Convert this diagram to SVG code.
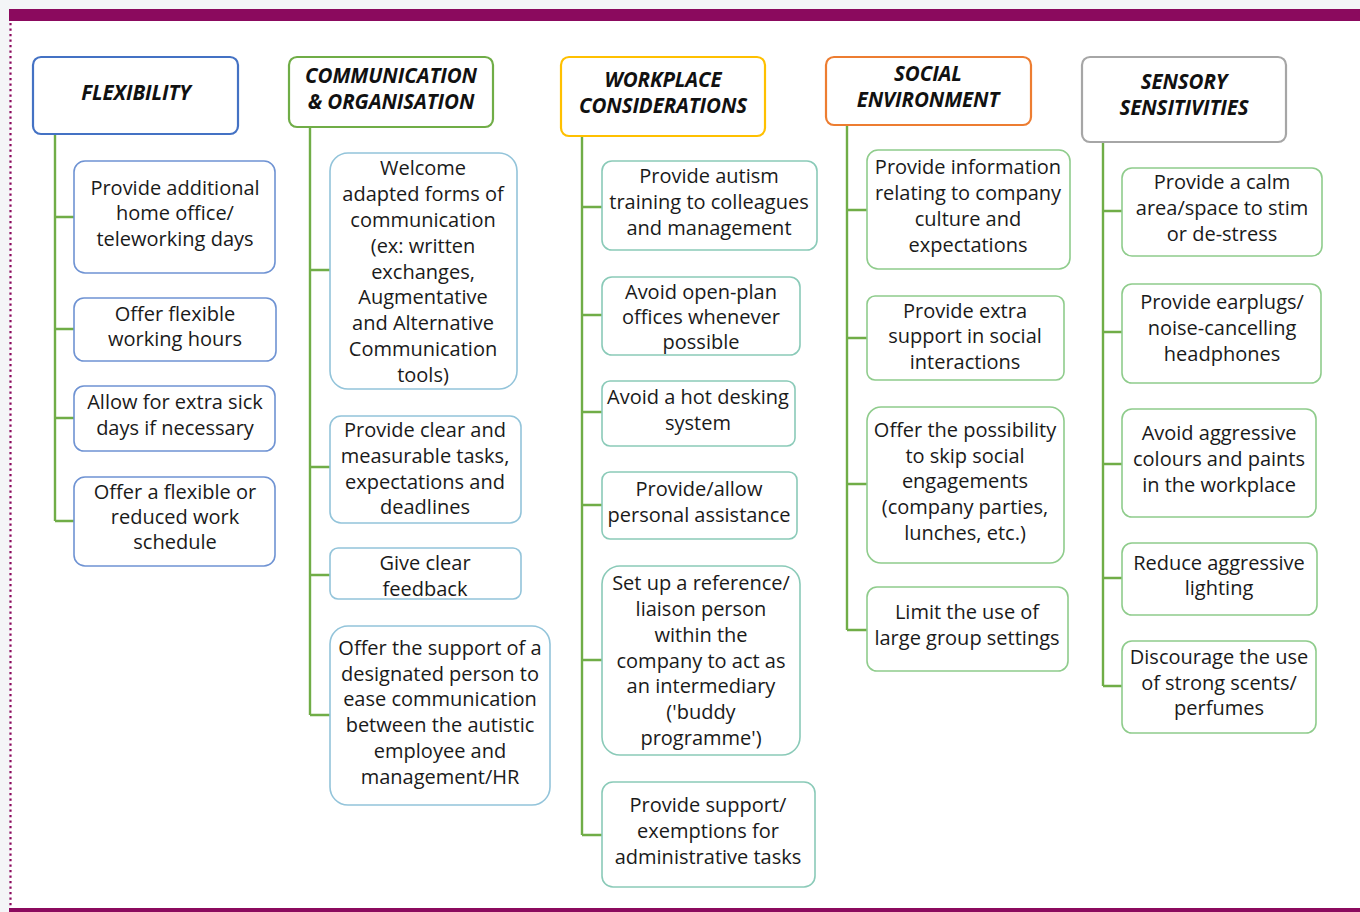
<svg xmlns="http://www.w3.org/2000/svg" width="1360" height="912" viewBox="0 0 1360 912">
<style>
.bg{fill:#ffffff}
.hdr{fill:#ffffff;stroke-width:2.2}
.box{fill:#ffffff;stroke-width:1.6}
.ht{font-family:"Open Sans","Liberation Sans",sans-serif;font-weight:bold;font-style:italic;font-size:20.5px;fill:#111;text-anchor:middle;dominant-baseline:central;letter-spacing:-0.1px}
.t{font-family:"Open Sans","Liberation Sans",sans-serif;font-size:20px;fill:#1a1a1a;text-anchor:middle;dominant-baseline:central}
.con{fill:none;stroke:#70AD47;stroke-width:2.4}
.c1{stroke:#6F93D3}.c2{stroke:#93C4DA}.c3{stroke:#8ACAB8}.c4{stroke:#8FCC8C}.c5{stroke:#8FCC8C}
</style>
<rect x="0" y="0" width="1360" height="912" fill="#F4F5F7"/>
<rect x="10" y="20" width="1350" height="888" class="bg"/>
<rect x="9" y="9" width="1351" height="12" fill="#8B0A5E"/>
<rect x="9" y="908" width="1351" height="4" fill="#8B0A5E"/>
<line x1="10.5" y1="23" x2="10.5" y2="908" stroke="#8B0A5E" stroke-width="2.2" stroke-dasharray="2.2 3.3"/>

<g id="connectors">
<path class="con" d="M55 134V521M55 217H74M55 329H74M55 418H74M55 521H74"/>
<path class="con" d="M310 127V715M310 270H330M310 467H330M310 575H330M310 715H330"/>
<path class="con" d="M582 136V835M582 207H602M582 315H602M582 412H602M582 505H602M582 660H602M582 835H602"/>
<path class="con" d="M847 125V630M847 210H867M847 338H867M847 484H867M847 630H867"/>
<path class="con" d="M1103 142V686M1103 211H1122M1103 332H1122M1103 464H1122M1103 578H1122M1103 686H1122"/>
</g>

<g id="h1"><rect class="hdr" x="33" y="57" width="205" height="77" rx="8" stroke="#4472C4"/><text class="ht" x="136" y="92">FLEXIBILITY</text></g>
<g id="h2"><rect class="hdr" x="289" y="57" width="204" height="70" rx="8" stroke="#70AD47"/><text class="ht" x="391" y="75">COMMUNICATION</text><text class="ht" x="391" y="101">&amp; ORGANISATION</text></g>
<g id="h3"><rect class="hdr" x="561" y="57" width="204" height="79" rx="8" stroke="#FFC000"/><text class="ht" x="663" y="79">WORKPLACE</text><text class="ht" x="663" y="105">CONSIDERATIONS</text></g>
<g id="h4"><rect class="hdr" x="826" y="57" width="205" height="68" rx="8" stroke="#ED7D31"/><text class="ht" x="928" y="73">SOCIAL</text><text class="ht" x="928" y="99">ENVIRONMENT</text></g>
<g id="h5"><rect class="hdr" x="1082" y="57" width="204" height="85" rx="8" stroke="#A6A6A6"/><text class="ht" x="1184" y="81">SENSORY</text><text class="ht" x="1184" y="107">SENSITIVITIES</text></g>

<g id="f1"><rect class="box c1" x="74" y="161" width="201" height="112" rx="11"/><text class="t"><tspan x="175" y="187">Provide additional</tspan><tspan x="175" y="212">home office/</tspan><tspan x="175" y="238">teleworking days</tspan></text></g>
<g id="f2"><rect class="box c1" x="74" y="298" width="202" height="63" rx="10"/><text class="t"><tspan x="175" y="313">Offer flexible</tspan><tspan x="175" y="338">working hours</tspan></text></g>
<g id="f3"><rect class="box c1" x="74" y="386" width="201" height="65" rx="10"/><text class="t"><tspan x="175" y="401">Allow for extra sick</tspan><tspan x="175" y="427">days if necessary</tspan></text></g>
<g id="f4"><rect class="box c1" x="74" y="477" width="201" height="89" rx="11"/><text class="t"><tspan x="175" y="491">Offer a flexible or</tspan><tspan x="175" y="516">reduced work</tspan><tspan x="175" y="541">schedule</tspan></text></g>

<g id="co1"><rect class="box c2" x="330" y="153" width="187" height="236" rx="18"/><text class="t"><tspan x="423" y="167">Welcome</tspan><tspan x="423" y="193">adapted forms of</tspan><tspan x="423" y="219">communication</tspan><tspan x="423" y="245">(ex: written</tspan><tspan x="423" y="271">exchanges,</tspan><tspan x="423" y="296">Augmentative</tspan><tspan x="423" y="322">and Alternative</tspan><tspan x="423" y="348">Communication</tspan><tspan x="423" y="374">tools)</tspan></text></g>
<g id="co2"><rect class="box c2" x="330" y="416" width="191" height="107" rx="11"/><text class="t"><tspan x="425" y="429">Provide clear and</tspan><tspan x="425" y="455">measurable tasks,</tspan><tspan x="425" y="481">expectations and</tspan><tspan x="425" y="506">deadlines</tspan></text></g>
<g id="co3"><rect class="box c2" x="330" y="548" width="191" height="51" rx="8"/><text class="t"><tspan x="425" y="562">Give clear</tspan><tspan x="425" y="588">feedback</tspan></text></g>
<g id="co4"><rect class="box c2" x="330" y="626" width="220" height="179" rx="18"/><text class="t"><tspan x="440" y="647">Offer the support of a</tspan><tspan x="440" y="673">designated person to</tspan><tspan x="440" y="698">ease communication</tspan><tspan x="440" y="724">between the autistic</tspan><tspan x="440" y="750">employee and</tspan><tspan x="440" y="776">management/HR</tspan></text></g>

<g id="w1"><rect class="box c3" x="602" y="161" width="215" height="89" rx="10"/><text class="t"><tspan x="709" y="175">Provide autism</tspan><tspan x="709" y="201">training to colleagues</tspan><tspan x="709" y="227">and management</tspan></text></g>
<g id="w2"><rect class="box c3" x="602" y="277" width="198" height="78" rx="10"/><text class="t"><tspan x="701" y="291">Avoid open-plan</tspan><tspan x="701" y="316">offices whenever</tspan><tspan x="701" y="341">possible</tspan></text></g>
<g id="w3"><rect class="box c3" x="602" y="381" width="193" height="65" rx="8"/><text class="t"><tspan x="698" y="396">Avoid a hot desking</tspan><tspan x="698" y="422">system</tspan></text></g>
<g id="w4"><rect class="box c3" x="602" y="472" width="195" height="67" rx="8"/><text class="t"><tspan x="699" y="488">Provide/allow</tspan><tspan x="699" y="514">personal assistance</tspan></text></g>
<g id="w5"><rect class="box c3" x="602" y="566" width="198" height="189" rx="18"/><text class="t"><tspan x="701" y="582">Set up a reference/</tspan><tspan x="701" y="608">liaison person</tspan><tspan x="701" y="634">within the</tspan><tspan x="701" y="660">company to act as</tspan><tspan x="701" y="685">an intermediary</tspan><tspan x="701" y="711">('buddy</tspan><tspan x="701" y="737">programme')</tspan></text></g>
<g id="w6"><rect class="box c3" x="602" y="782" width="213" height="105" rx="11"/><text class="t"><tspan x="708" y="804">Provide support/</tspan><tspan x="708" y="830">exemptions for</tspan><tspan x="708" y="856">administrative tasks</tspan></text></g>

<g id="s1"><rect class="box c4" x="867" y="150" width="203" height="119" rx="11"/><text class="t"><tspan x="968" y="166">Provide information</tspan><tspan x="968" y="192">relating to company</tspan><tspan x="968" y="218">culture and</tspan><tspan x="968" y="244">expectations</tspan></text></g>
<g id="s2"><rect class="box c4" x="867" y="296" width="197" height="84" rx="8"/><text class="t"><tspan x="965" y="310">Provide extra</tspan><tspan x="965" y="335">support in social</tspan><tspan x="965" y="361">interactions</tspan></text></g>
<g id="s3"><rect class="box c4" x="867" y="407" width="197" height="156" rx="14"/><text class="t"><tspan x="965" y="429">Offer the possibility</tspan><tspan x="965" y="455">to skip social</tspan><tspan x="965" y="480">engagements</tspan><tspan x="965" y="506">(company parties,</tspan><tspan x="965" y="532">lunches, etc.)</tspan></text></g>
<g id="s4"><rect class="box c4" x="867" y="587" width="201" height="84" rx="10"/><text class="t"><tspan x="967" y="611">Limit the use of</tspan><tspan x="967" y="637">large group settings</tspan></text></g>

<g id="e1"><rect class="box c5" x="1122" y="168" width="200" height="88" rx="10"/><text class="t"><tspan x="1222" y="181">Provide a calm</tspan><tspan x="1222" y="207">area/space to stim</tspan><tspan x="1222" y="233">or de-stress</tspan></text></g>
<g id="e2"><rect class="box c5" x="1122" y="284" width="199" height="99" rx="10"/><text class="t"><tspan x="1222" y="301">Provide earplugs/</tspan><tspan x="1222" y="327">noise-cancelling</tspan><tspan x="1222" y="353">headphones</tspan></text></g>
<g id="e3"><rect class="box c5" x="1122" y="409" width="194" height="108" rx="10"/><text class="t"><tspan x="1219" y="432">Avoid aggressive</tspan><tspan x="1219" y="458">colours and paints</tspan><tspan x="1219" y="484">in the workplace</tspan></text></g>
<g id="e4"><rect class="box c5" x="1122" y="543" width="195" height="72" rx="10"/><text class="t"><tspan x="1219" y="562">Reduce aggressive</tspan><tspan x="1219" y="587">lighting</tspan></text></g>
<g id="e5"><rect class="box c5" x="1122" y="641" width="194" height="92" rx="10"/><text class="t"><tspan x="1219" y="656">Discourage the use</tspan><tspan x="1219" y="682">of strong scents/</tspan><tspan x="1219" y="707">perfumes</tspan></text></g>
</svg>
